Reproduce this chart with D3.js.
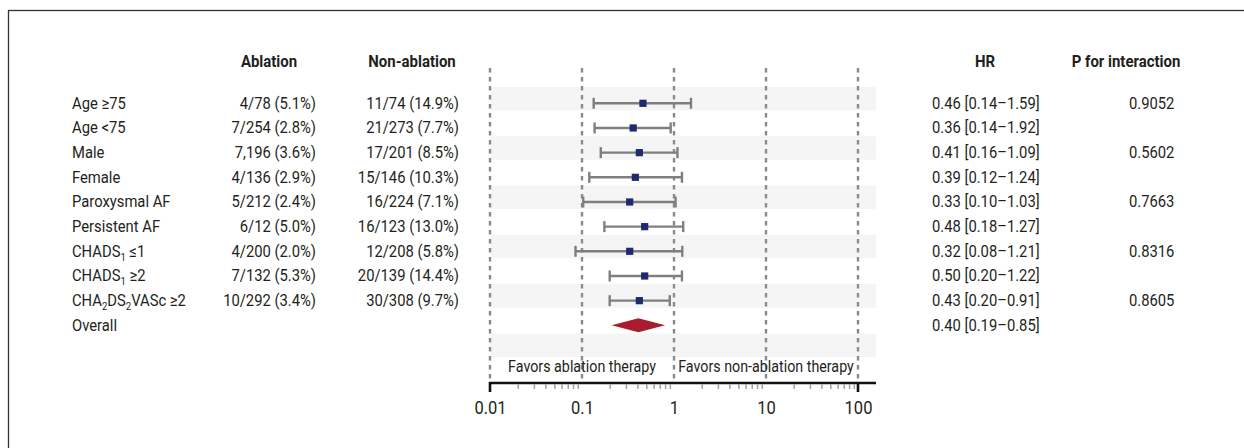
<!DOCTYPE html>
<html>
<head>
<meta charset="utf-8">
<script src="https://cdn.jsdelivr.net/npm/d3@7"></script>
<style>
  body { margin: 0; background: #fff; }
  svg text { font-family: "Liberation Sans Narrow", Roboto, sans-serif; fill: #231f20; }
</style>
</head>
<body>
<svg id="chart" width="1244" height="448"></svg>
<script>
// subgroup labels, "_n" marks a subscript
const labels = ["Age \u226575", "Age <75", "Male", "Female", "Paroxysmal AF", "Persistent AF",
    "CHADS_1 \u22641", "CHADS_1 \u22652", "CHA_2DS_2VASc \u22652", "Overall"];
const ablation = ["4/78 (5.1%)", "7/254 (2.8%)", "7,196 (3.6%)", "4/136 (2.9%)", "5/212 (2.4%)",
    "6/12 (5.0%)", "4/200 (2.0%)", "7/132 (5.3%)", "10/292 (3.4%)", ""];
const nonAblation = ["11/74 (14.9%)", "21/273 (7.7%)", "17/201 (8.5%)", "15/146 (10.3%)", "16/224 (7.1%)",
    "16/123 (13.0%)", "12/208 (5.8%)", "20/139 (14.4%)", "30/308 (9.7%)", ""];
const hrText = ["0.46 [0.14\u20131.59]", "0.36 [0.14\u20131.92]", "0.41 [0.16\u20131.09]", "0.39 [0.12\u20131.24]",
    "0.33 [0.10\u20131.03]", "0.48 [0.18\u20131.27]", "0.32 [0.08\u20131.21]", "0.50 [0.20\u20131.22]",
    "0.43 [0.20\u20130.91]", "0.40 [0.19\u20130.85]"];
const pInteraction = ["0.9052", "", "0.5602", "", "0.7663", "", "0.8316", "", "0.8605", ""];

// plotted estimates, as drawn in the picture
const hr = [0.46, 0.36, 0.42, 0.38, 0.33, 0.48, 0.33, 0.48, 0.42];
const lower = [0.134, 0.137, 0.16, 0.12, 0.103, 0.175, 0.085, 0.20, 0.20];
const upper = [1.53, 0.92, 1.09, 1.22, 1.04, 1.26, 1.23, 1.22, 0.90];
const overall = { hr: 0.41, lower: 0.21, upper: 0.80 };

const majorTicks = [0.01, 0.1, 1, 10, 100];
const favors = [{ at: 0.1, text: "Favors ablation therapy" }, { at: 10, text: "Favors non-ablation therapy" }];

const svg = d3.select("#chart");
const SX = 0.87; // horizontal squeeze, the original type is a condensed face

// move x/y into a transform so the text can be squeezed around its anchor
function squeeze(sel, sx) {
    sel.each(function() {
        const t = d3.select(this);
        const tx = +t.attr("x") || 0, ty = +t.attr("y") || 0;
        t.attr("x", 0).attr("y", 0)
            .attr("transform", `translate(${tx},${ty}) scale(${sx},1)`);
    });
}

// frame (only top and left edges are inside the picture)
svg.append("rect")
    .attr("x", 8.5).attr("y", 10.5)
    .attr("width", 1400).attr("height", 600)
    .attr("fill", "none").attr("stroke", "#333").attr("stroke-width", 1.3);

const x = d3.scaleLog().domain([0.01, 100]).range([490, 858]);
const nRows = 11;
const y = d3.scaleLinear().domain([0, nRows - 1]).range([103.3, 103.3 + 24.67 * (nRows - 1)]);
const plotRight = 876;
const axisY = 383;

// shaded bands on every other row
svg.append("g").selectAll("rect")
    .data(d3.range(0, nRows, 2))
    .join("rect")
    .attr("x", x(0.01) + 1)
    .attr("y", d => y(d) - 16.5)
    .attr("width", plotRight - x(0.01) - 1)
    .attr("height", 23.5)
    .attr("fill", "#f5f5f5");

// dashed reference lines
svg.append("g").selectAll("line")
    .data(majorTicks)
    .join("line")
    .attr("x1", d => x(d)).attr("x2", d => x(d))
    .attr("y1", 68).attr("y2", axisY)
    .attr("stroke", "#8a8a8a")
    .attr("stroke-width", 2.4)
    .attr("stroke-dasharray", "4.5,4.5");

// favors labels
svg.append("g").selectAll("text")
    .data(favors)
    .join("text")
    .attr("x", d => x(d.at))
    .attr("y", 372)
    .attr("text-anchor", "middle")
    .style("font-size", "17px")
    .text(d => d.text)
    .call(squeeze, 0.84);

// error bars
const rows = hr.map((d, i) => ({ hr: d, lo: lower[i], hi: upper[i], i }));
const bars = svg.append("g").selectAll("g")
    .data(rows)
    .join("g");

bars.append("line")
    .attr("x1", d => x(d.lo)).attr("x2", d => x(d.hi))
    .attr("y1", d => y(d.i)).attr("y2", d => y(d.i))
    .attr("stroke", "#7f7f7f").attr("stroke-width", 2.4);

bars.selectAll(".cap")
    .data(d => [d.lo, d.hi].map(v => ({ v, i: d.i })))
    .join("line")
    .attr("class", "cap")
    .attr("x1", d => x(d.v)).attr("x2", d => x(d.v))
    .attr("y1", d => y(d.i) - 5.5).attr("y2", d => y(d.i) + 5.5)
    .attr("stroke", "#7f7f7f").attr("stroke-width", 2.4);

bars.append("rect")
    .attr("x", d => x(d.hr) - 3.6)
    .attr("y", d => y(d.i) - 3.6)
    .attr("width", 7.2).attr("height", 7.2)
    .attr("fill", "#1f2a6e");

// overall diamond
const oy = y(9);
svg.append("path")
    .attr("d", `M${x(overall.lower)},${oy} L${x(overall.hr)},${oy - 7} L${x(overall.upper)},${oy} L${x(overall.hr)},${oy + 7} Z`)
    .attr("fill", "#a81c2b");

// axis
svg.append("line")
    .attr("x1", x(0.01) - 1).attr("x2", plotRight)
    .attr("y1", axisY).attr("y2", axisY)
    .attr("stroke", "#111").attr("stroke-width", 2.6);

const minorTicks = [];
[0.01, 0.1, 1, 10].forEach(b => d3.range(2, 10).forEach(k => minorTicks.push(+(b * k).toPrecision(3))));

const minorAxis = svg.append("g")
    .attr("transform", `translate(0,${axisY + 1})`)
    .call(d3.axisBottom(x).tickValues(minorTicks).tickSize(5).tickFormat(""));
minorAxis.select(".domain").remove();
minorAxis.selectAll(".tick line").attr("stroke", "#a0a0a0").attr("stroke-width", 1.5);

const majorAxis = svg.append("g")
    .attr("transform", `translate(0,${axisY})`)
    .call(d3.axisBottom(x).tickValues(majorTicks).tickSize(0).tickPadding(18).tickFormat(d => String(d)));
majorAxis.select(".domain").remove();
majorAxis.selectAll("text")
    .style("font-size", "19px")
    .style("font-family", "\"Liberation Sans Narrow\", Roboto, sans-serif")
    .attr("fill", "#231f20")
    .attr("transform", `scale(${SX},1)`);

// end ticks of the axis
svg.append("g").selectAll("line")
    .data([0.01, 100])
    .join("line")
    .attr("x1", d => x(d)).attr("x2", d => x(d))
    .attr("y1", axisY - 1).attr("y2", axisY + 9)
    .attr("stroke", "#111").attr("stroke-width", 2.6);

// column headers
const headers = [
    { x: 269, text: "Ablation" },
    { x: 412, text: "Non-ablation" },
    { x: 985, text: "HR" },
    { x: 1126, text: "P for interaction" }
];
svg.append("g").selectAll("text")
    .data(headers)
    .join("text")
    .attr("x", d => d.x).attr("y", 67)
    .attr("text-anchor", "middle")
    .style("font-size", "17px")
    .style("font-weight", "bold")
    .text(d => d.text)
    .call(squeeze, 0.88);

// table text
const fs = "17px";
const labelG = svg.append("g");
labels.forEach((lab, i) => {
    const t = labelG.append("text")
        .attr("x", 72).attr("y", y(i) + 5.5)
        .style("font-size", fs);
    let back = 0;
    lab.split(/(_\d)/).filter(s => s.length).forEach(part => {
        if (part[0] === "_") {
            t.append("tspan").text(part.slice(1))
                .attr("dy", 4 - back).style("font-size", "11px");
            back = 4;
        } else {
            t.append("tspan").text(part).attr("dy", -back);
            back = 0;
        }
    });
    squeeze(t, SX);
});

function column(values, xPos, anchor) {
    svg.append("g").selectAll("text")
        .data(values)
        .join("text")
        .attr("x", xPos)
        .attr("y", (d, i) => y(i) + 5.5)
        .attr("text-anchor", anchor)
        .style("font-size", fs)
        .text(d => d)
        .call(squeeze, SX);
}
column(ablation, 316, "end");
column(nonAblation, 459, "end");
column(hrText, 932, "start");
column(pInteraction, 1129, "start");
</script>
</body>
</html>
